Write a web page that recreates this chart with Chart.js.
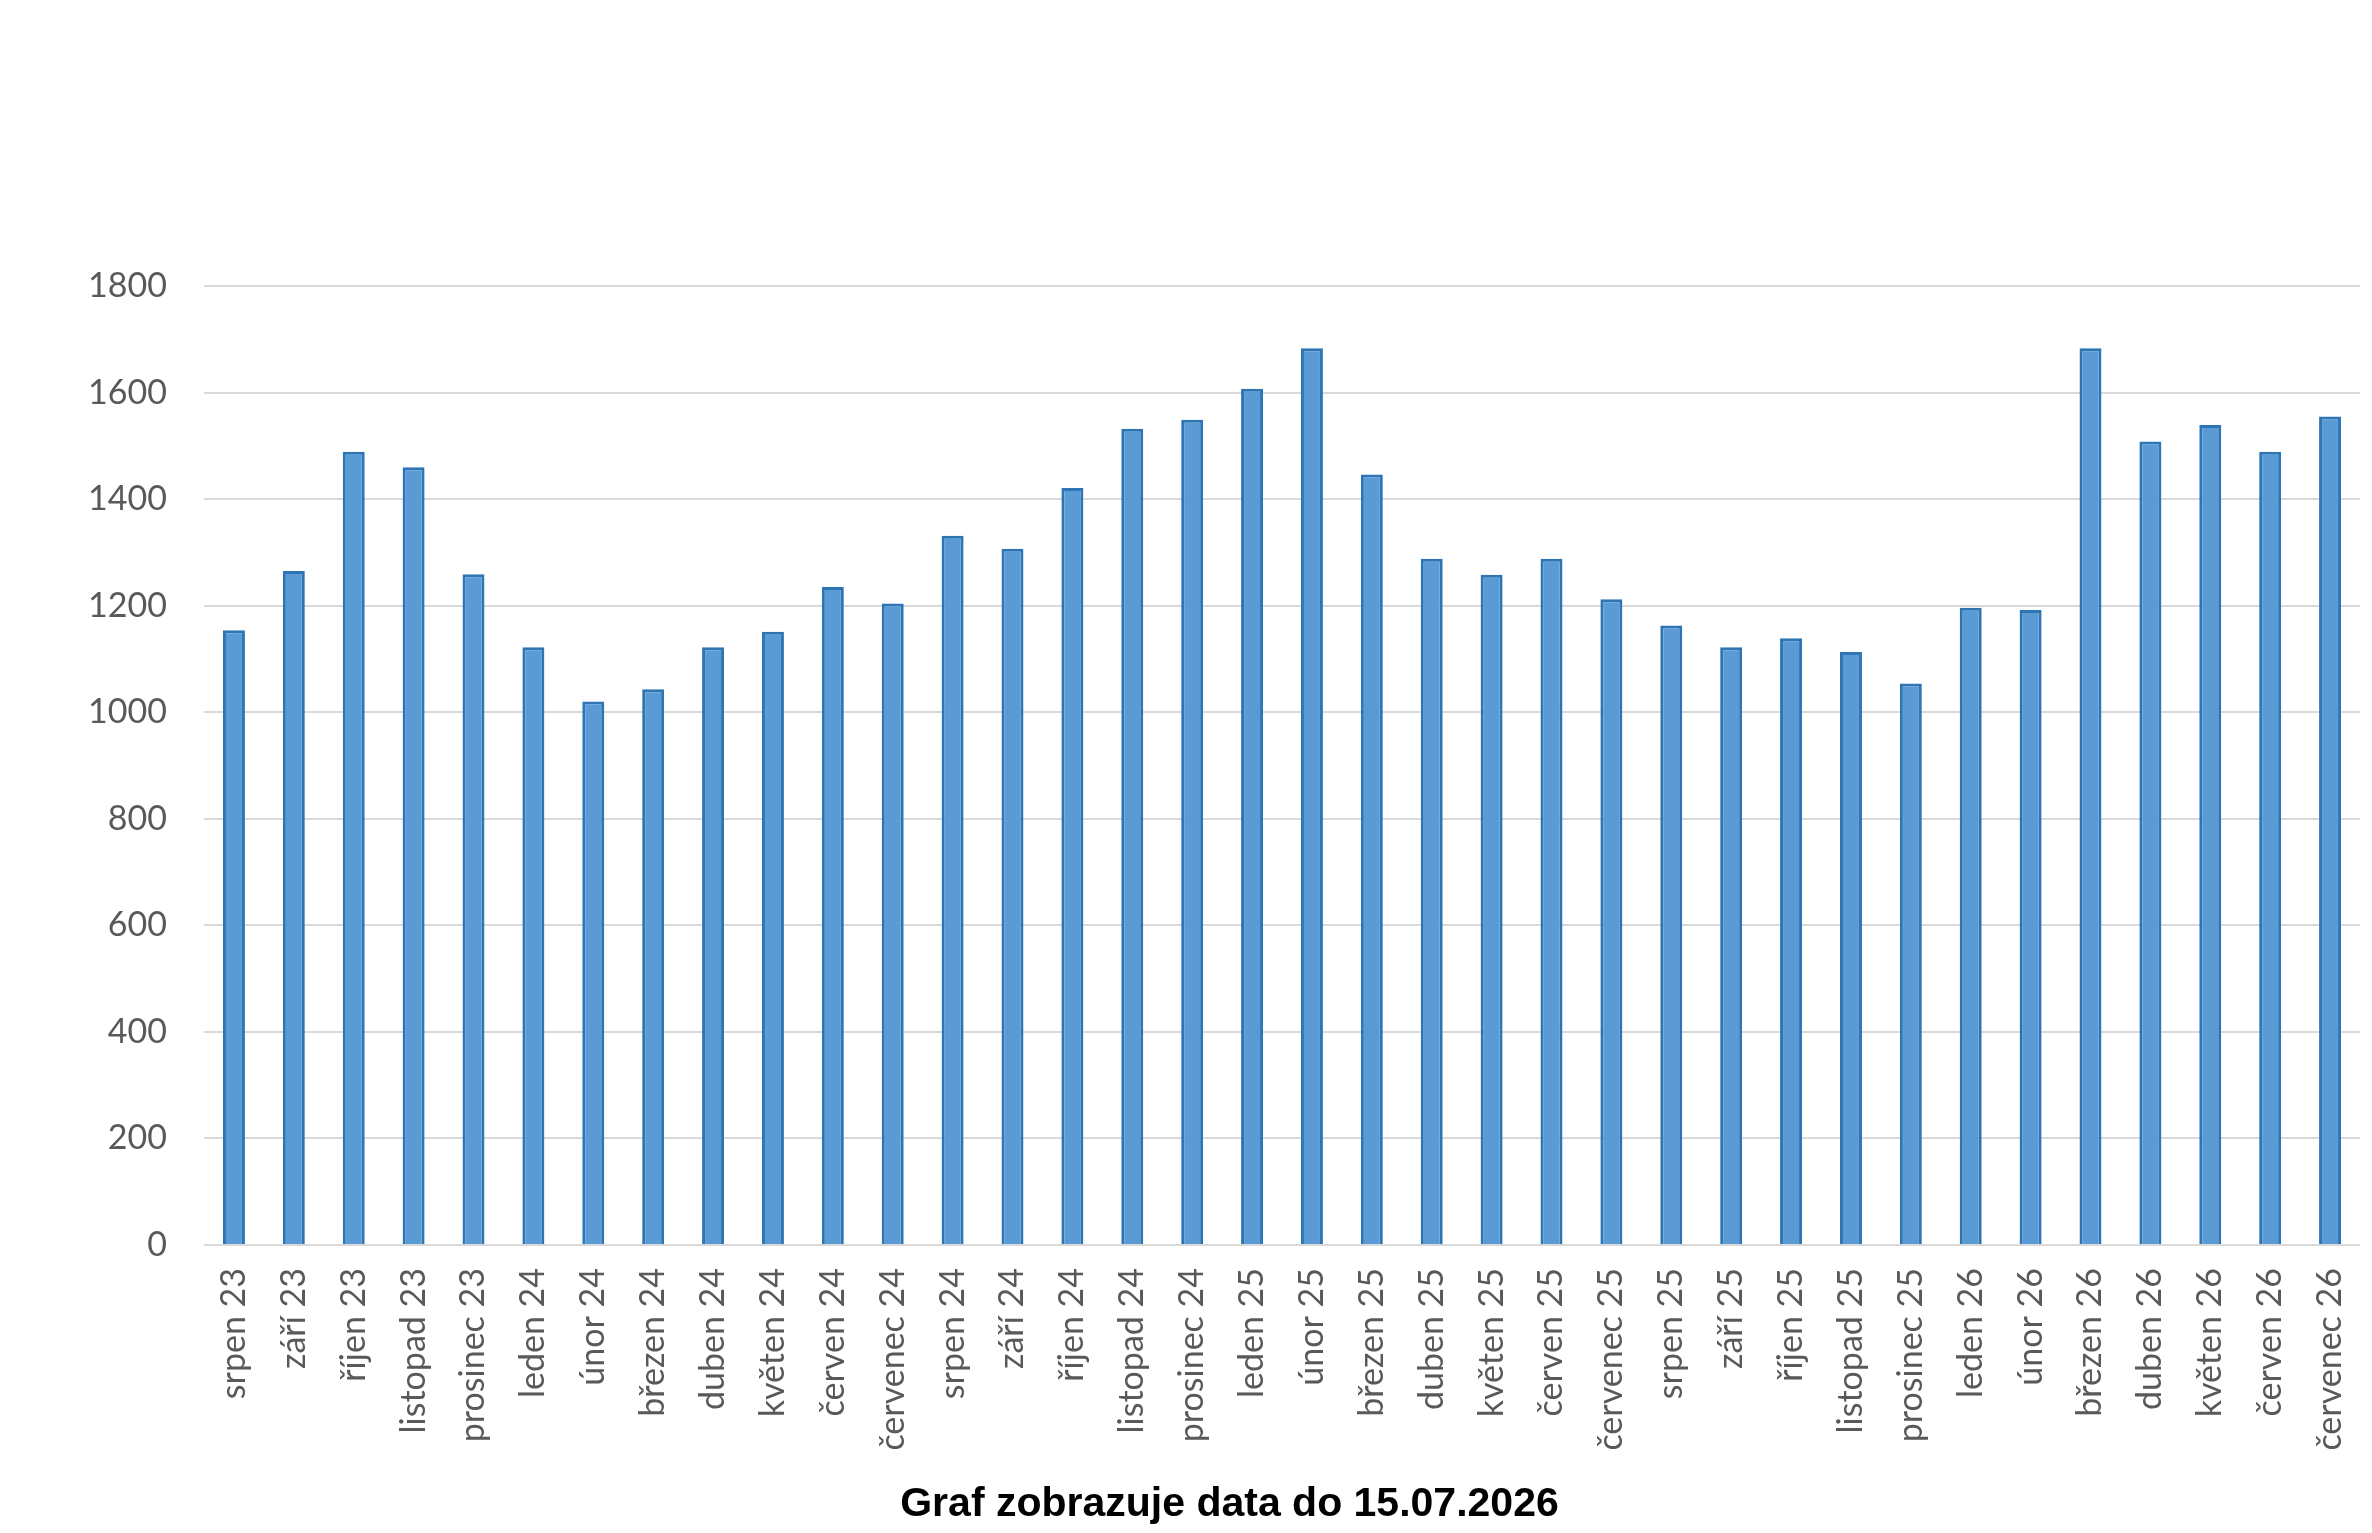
<!DOCTYPE html>
<html>
<head>
<meta charset="utf-8">
<script src="https://cdn.jsdelivr.net/npm/chart.js@4"></script>
<style>
  html, body { margin: 0; padding: 0; background: #ffffff; }
  #wrap { width: 2372px; height: 1533px; }
</style>
</head>
<body>
<div id="wrap"><canvas id="c" width="2372" height="1533"></canvas></div>
<script>
const categories = [
  "srpen 23", "září 23", "říjen 23", "listopad 23", "prosinec 23",
  "leden 24", "únor 24", "březen 24", "duben 24", "květen 24", "červen 24", "červenec 24",
  "srpen 24", "září 24", "říjen 24", "listopad 24", "prosinec 24",
  "leden 25", "únor 25", "březen 25", "duben 25", "květen 25", "červen 25", "červenec 25",
  "srpen 25", "září 25", "říjen 25", "listopad 25", "prosinec 25",
  "leden 26", "únor 26", "březen 26", "duben 26", "květen 26", "červen 26", "červenec 26"
];
const values = [
  1154, 1265, 1489, 1460, 1259,
  1122, 1020, 1043, 1122, 1151, 1235, 1204,
  1331, 1307, 1421, 1532, 1549,
  1607, 1683, 1446, 1288, 1258, 1288, 1212,
  1163, 1122, 1139, 1113, 1054,
  1196, 1192, 1683, 1508, 1539, 1489, 1555
];
const yMin = 0;
const yMax = 1800;
const yStep = 200;
const titleText = "Graf zobrazuje data do 15.07.2026";

const tickFont = { family: "Lato, 'Open Sans', sans-serif", size: 34 };
const tickColor = "#595959";

new Chart(document.getElementById("c"), {
  type: "bar",
  data: {
    labels: categories,
    datasets: [{
      data: values,
      backgroundColor: "#5B9BD5",
      borderColor: "#2E75B6",
      borderWidth: 3,
      barPercentage: 0.367,
      categoryPercentage: 1.0
    }]
  },
  options: {
    responsive: false,
    animation: false,
    devicePixelRatio: 1,
    layout: { padding: { left: 87, right: 0, top: 286, bottom: 3.4 } },
    plugins: {
      legend: { display: false },
      tooltip: { enabled: false },
      title: {
        display: true,
        position: "bottom",
        text: titleText,
        color: "#000000",
        font: { family: "'Liberation Sans', Arial, sans-serif", size: 41, weight: "bold" },
        padding: { top: 0, bottom: 0 }
      }
    },
    scales: {
      x: {
        grid: { display: false, drawTicks: false },
        border: { display: false },
        ticks: {
          color: tickColor,
          font: tickFont,
          minRotation: 90,
          maxRotation: 90,
          autoSkip: false,
          padding: 23
        },
        afterFit(scale) {
          scale.height = 235.4;
          scale.paddingLeft = 0;
          scale.paddingRight = 12;
        }
      },
      y: {
        min: yMin,
        max: yMax,
        grid: { color: "#D9D9D9", lineWidth: 2, drawTicks: false },
        border: { display: false },
        ticks: {
          stepSize: yStep,
          color: tickColor,
          font: tickFont,
          padding: 37,
          callback: (v) => String(v)
        },
        afterFit(scale) {
          scale.width = 117;
          scale.paddingTop = 0;
          scale.paddingBottom = 0;
        }
      }
    }
  }
});
</script>
</body>
</html>
